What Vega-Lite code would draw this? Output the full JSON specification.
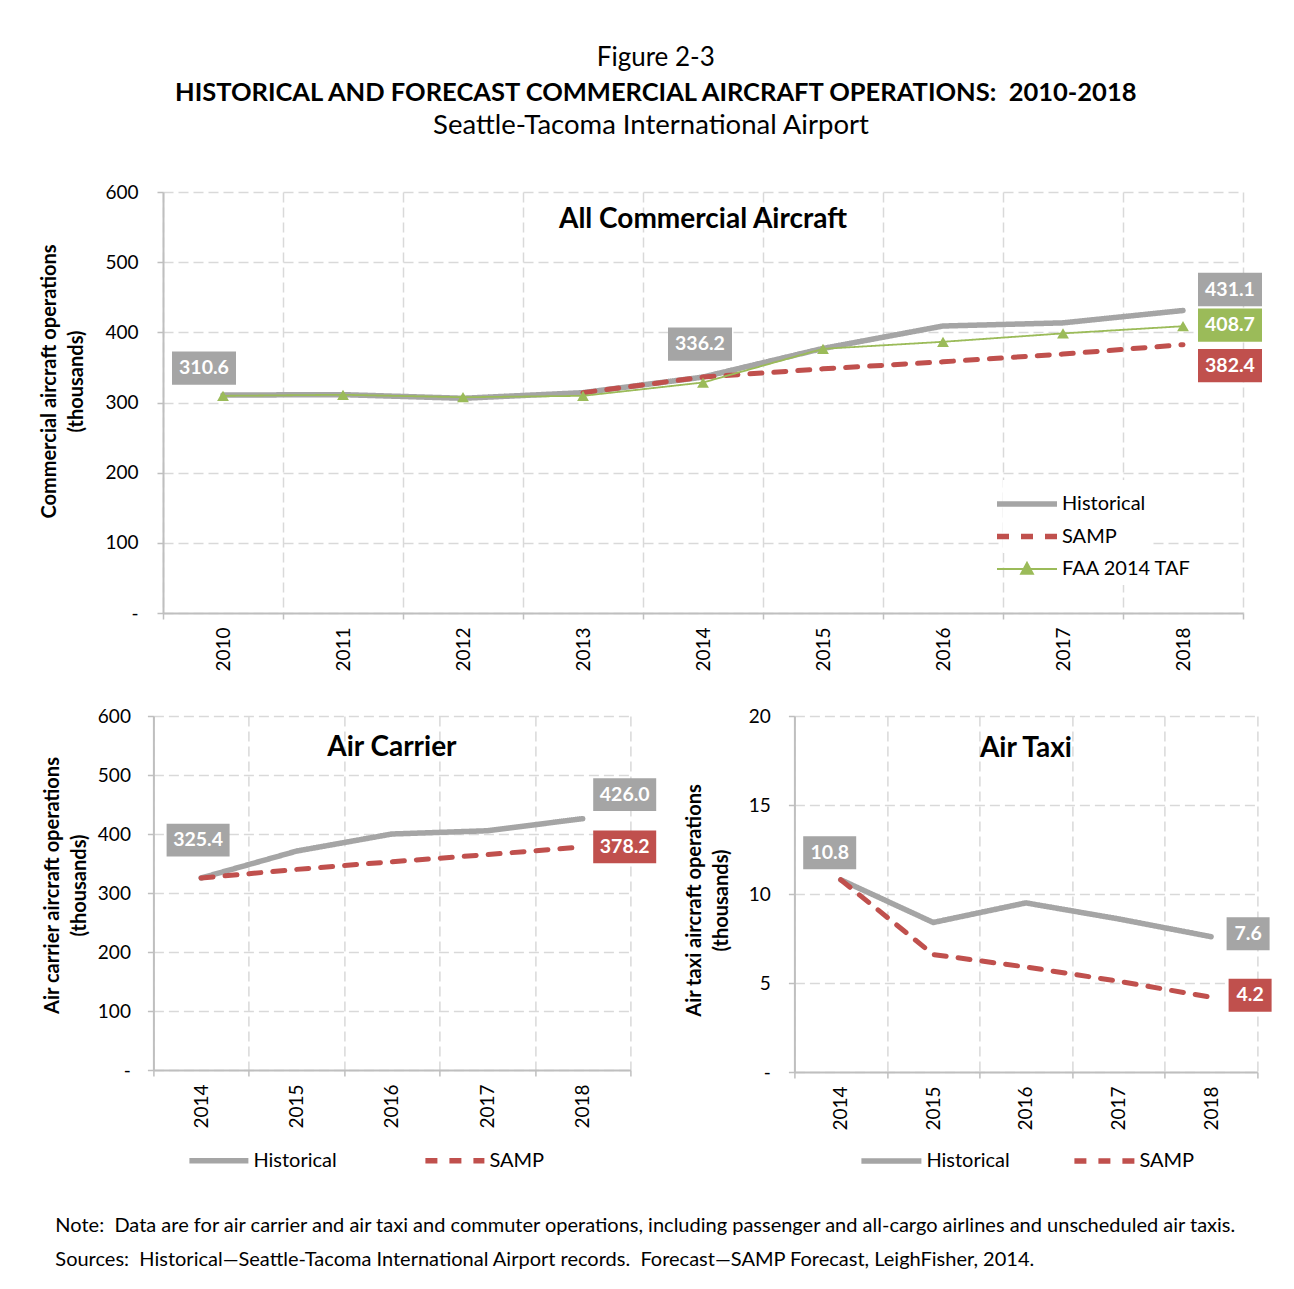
{
  "$schema": "https://vega.github.io/schema/vega-lite/v6.json",
  "background": "white",
  "padding": {"left": 39, "top": 45, "right": 10, "bottom": 5},
  "config": {
    "font": "Lato",
    "view": {"stroke": null},
    "axis": {
      "labelFont": "Lato", "labelFontSize": 19, "labelColor": "#000",
      "titleFont": "Lato", "titleFontSize": 20, "titleFontWeight": "bold", "titleColor": "#000",
      "grid": true, "gridColor": "#d9d9d9", "gridDash": [10, 5], "gridWidth": 1.5,
      "domainColor": "#bfbfbf", "domainWidth": 2, "tickColor": "#bfbfbf", "tickWidth": 1.5, "tickSize": 6
    },
    "legend": {"labelFont": "Lato", "labelFontSize": 20, "labelColor": "#000", "labelLimit": 300},
    "title": {"font": "Lato", "color": "#000"},
    "line": {"strokeCap": "round", "strokeJoin": "round"}
  },
  "datasets": {
    "all": [
      {"year": "2010", "series": "Historical", "value": 310.6},
      {"year": "2011", "series": "Historical", "value": 311.2},
      {"year": "2012", "series": "Historical", "value": 306.0},
      {"year": "2013", "series": "Historical", "value": 314.0},
      {"year": "2014", "series": "Historical", "value": 336.2},
      {"year": "2015", "series": "Historical", "value": 377.0},
      {"year": "2016", "series": "Historical", "value": 409.0},
      {"year": "2017", "series": "Historical", "value": 413.5},
      {"year": "2018", "series": "Historical", "value": 431.1},
      {"year": "2013", "series": "SAMP", "value": 314.0},
      {"year": "2014", "series": "SAMP", "value": 336.2},
      {"year": "2015", "series": "SAMP", "value": 348.0},
      {"year": "2016", "series": "SAMP", "value": 358.0},
      {"year": "2017", "series": "SAMP", "value": 369.0},
      {"year": "2018", "series": "SAMP", "value": 382.4},
      {"year": "2010", "series": "FAA 2014 TAF", "value": 309.5},
      {"year": "2011", "series": "FAA 2014 TAF", "value": 311.0},
      {"year": "2012", "series": "FAA 2014 TAF", "value": 307.5},
      {"year": "2013", "series": "FAA 2014 TAF", "value": 309.5},
      {"year": "2014", "series": "FAA 2014 TAF", "value": 328.5},
      {"year": "2015", "series": "FAA 2014 TAF", "value": 376.5},
      {"year": "2016", "series": "FAA 2014 TAF", "value": 386.5},
      {"year": "2017", "series": "FAA 2014 TAF", "value": 398.5},
      {"year": "2018", "series": "FAA 2014 TAF", "value": 408.7}
    ],
    "carrier": [
      {"year": "2014", "series": "Historical", "value": 325.4},
      {"year": "2015", "series": "Historical", "value": 371.0},
      {"year": "2016", "series": "Historical", "value": 400.0},
      {"year": "2017", "series": "Historical", "value": 405.5},
      {"year": "2018", "series": "Historical", "value": 426.0},
      {"year": "2014", "series": "SAMP", "value": 325.4},
      {"year": "2015", "series": "SAMP", "value": 340.0},
      {"year": "2016", "series": "SAMP", "value": 353.0},
      {"year": "2017", "series": "SAMP", "value": 365.0},
      {"year": "2018", "series": "SAMP", "value": 378.2}
    ],
    "taxi": [
      {"year": "2014", "series": "Historical", "value": 10.8},
      {"year": "2015", "series": "Historical", "value": 8.4},
      {"year": "2016", "series": "Historical", "value": 9.5},
      {"year": "2017", "series": "Historical", "value": 8.6},
      {"year": "2018", "series": "Historical", "value": 7.6},
      {"year": "2014", "series": "SAMP", "value": 10.8},
      {"year": "2015", "series": "SAMP", "value": 6.6},
      {"year": "2016", "series": "SAMP", "value": 5.9},
      {"year": "2017", "series": "SAMP", "value": 5.1},
      {"year": "2018", "series": "SAMP", "value": 4.2}
    ]
  },
  "title": {
    "text": "Figure 2-3",
    "subtitle": "HISTORICAL AND FORECAST COMMERCIAL AIRCRAFT OPERATIONS:\u00a0 2010-2018",
    "fontSize": 26, "fontWeight": "normal",
    "subtitleFont": "Lato", "subtitleFontSize": 25.5, "subtitleFontWeight": "bold", "subtitleColor": "#000",
    "subtitlePadding": 10, "anchor": "middle", "offset": 5
  },
  "spacing": 35,
  "center": true,
  "resolve": {
    "scale": {"x": "independent", "y": "independent", "color": "independent", "strokeDash": "independent", "shape": "independent"},
    "legend": {"color": "independent", "strokeDash": "independent", "shape": "independent"}
  },
  "vconcat": [
    {
      "title": {"text": "Seattle-Tacoma International Airport", "fontSize": 27.5, "fontWeight": "normal", "anchor": "middle", "offset": 44},
      "vconcat": [
        {
          "width": 1080,
          "height": 421,
          "title": {"text": "All Commercial Aircraft", "fontSize": 28, "fontWeight": "bold", "offset": -51},
          "data": {"name": "all"},
          "encoding": {
            "x": {
              "field": "year", "type": "ordinal",
              "scale": {"type": "band", "paddingInner": 0, "paddingOuter": 0},
              "axis": {"title": null, "labelAngle": -90, "tickBand": "extent", "labelPadding": 8}
            },
            "y": {
              "field": "value", "type": "quantitative",
              "scale": {"domain": [0, 600]},
              "axis": {
                "values": [0, 100, 200, 300, 400, 500, 600],
                "labelExpr": "datum.value === 0 ? '-\u00a0\u00a0' : datum.label",
                "labelPadding": 19,
                "title": ["Commercial aircraft operations", "(thousands)"],
                "titleLineHeight": 27, "titlePadding": 18, "titleY": 189
              }
            }
          },
          "layer": [
            {
              "transform": [{"filter": "datum.series === 'Historical'"}],
              "mark": {"type": "line", "strokeWidth": 5.5},
              "encoding": {
                "color": {"field": "series", "type": "nominal",
                  "scale": {"domain": ["Historical", "SAMP", "FAA 2014 TAF"], "range": ["#a5a5a5", "#c0504d", "#9bbb59"]},
                  "legend": {"title": null, "values": ["Historical", "SAMP"], "orient": "none", "legendX": 840, "legendY": 288, "symbolType": "M-2,0L2,0", "symbolSize": 900, "symbolStrokeWidth": 5.5, "labelOffset": 17, "rowPadding": 4.5, "fillColor": "white", "padding": 6}},
                "strokeDash": {"field": "series", "type": "nominal",
                  "scale": {"domain": ["Historical", "SAMP", "FAA 2014 TAF"], "range": [[1, 0], [12, 12], [1, 0]]},
                  "legend": {"title": null, "values": ["Historical", "SAMP"], "orient": "none", "legendX": 840, "legendY": 288, "symbolType": "M-2,0L2,0", "symbolSize": 900, "symbolStrokeWidth": 5.5, "labelOffset": 17, "rowPadding": 4.5, "fillColor": "white", "padding": 6}}
              }
            },
            {
              "transform": [{"filter": "datum.series === 'SAMP'"}],
              "mark": {"type": "line", "strokeWidth": 5},
              "encoding": {
                "color": {"field": "series", "type": "nominal"},
                "strokeDash": {"field": "series", "type": "nominal"}
              }
            },
            {
              "transform": [{"filter": "datum.series === 'FAA 2014 TAF'"}],
              "mark": {"type": "line", "strokeWidth": 1.8},
              "encoding": {
                "color": {"field": "series", "type": "nominal"},
                "strokeDash": {"field": "series", "type": "nominal"}
              }
            },
            {
              "transform": [{"filter": "datum.series === 'FAA 2014 TAF'"}],
              "mark": {"type": "point", "shape": "triangle-up", "size": 140, "filled": true, "opacity": 1, "color": "#9bbb59"}
            },
            {
              "transform": [{"filter": "datum.series === 'FAA 2014 TAF'"}],
              "mark": {"type": "point", "filled": false, "opacity": 0, "color": "#9bbb59", "strokeWidth": 1.8},
              "encoding": {
                "shape": {"field": "series", "type": "nominal",
                  "scale": {"domain": ["FAA 2014 TAF"], "range": ["M-2,0L2,0M0,-0.42L0.4,0.32L-0.4,0.32ZM0,-0.272L0.28,0.246L-0.28,0.246ZM0,-0.149L0.18,0.184L-0.18,0.184ZM0,-0.026L0.08,0.122L-0.08,0.122Z"]},
                  "legend": {"title": null, "orient": "none", "legendX": 842, "legendY": 355, "symbolSize": 900, "symbolStrokeWidth": 1.8, "symbolOpacity": 1, "symbolStrokeColor": "#9bbb59", "labelOffset": 19, "fillColor": "white", "padding": 6}}
              }
            },
            {
              "transform": [{"filter": "datum.series === 'Historical' && datum.year === '2010'"}],
              "layer": [
                {"mark": {"type": "point", "shape": "M-1,-0.52L1,-0.52L1,0.52L-1,0.52Z", "size": 4096, "filled": true, "opacity": 1, "color": "#a5a5a5", "xOffset": -19, "yOffset": -27}},
                {"mark": {"type": "text", "color": "white", "fontWeight": "bold", "fontSize": 19.5, "xOffset": -19, "yOffset": -27}, "encoding": {"text": {"field": "value", "type": "quantitative", "format": ".1f"}}}
              ]
            },
            {
              "transform": [{"filter": "datum.series === 'Historical' && datum.year === '2014'"}],
              "layer": [
                {"mark": {"type": "point", "shape": "M-1,-0.52L1,-0.52L1,0.52L-1,0.52Z", "size": 4096, "filled": true, "opacity": 1, "color": "#a5a5a5", "xOffset": -3, "yOffset": -33}},
                {"mark": {"type": "text", "color": "white", "fontWeight": "bold", "fontSize": 19.5, "xOffset": -3, "yOffset": -33}, "encoding": {"text": {"field": "value", "type": "quantitative", "format": ".1f"}}}
              ]
            },
            {
              "transform": [{"filter": "datum.series === 'Historical' && datum.year === '2018'"}],
              "layer": [
                {"mark": {"type": "point", "shape": "M-1,-0.52L1,-0.52L1,0.52L-1,0.52Z", "size": 4096, "filled": true, "opacity": 1, "color": "#a5a5a5", "xOffset": 47, "yOffset": -21}},
                {"mark": {"type": "text", "color": "white", "fontWeight": "bold", "fontSize": 19.5, "xOffset": 47, "yOffset": -21}, "encoding": {"text": {"field": "value", "type": "quantitative", "format": ".1f"}}}
              ]
            },
            {
              "transform": [{"filter": "datum.series === 'FAA 2014 TAF' && datum.year === '2018'"}],
              "layer": [
                {"mark": {"type": "point", "shape": "M-1,-0.52L1,-0.52L1,0.52L-1,0.52Z", "size": 4096, "filled": true, "opacity": 1, "color": "#9bbb59", "xOffset": 47, "yOffset": -1}},
                {"mark": {"type": "text", "color": "white", "fontWeight": "bold", "fontSize": 19.5, "xOffset": 47, "yOffset": -1}, "encoding": {"text": {"field": "value", "type": "quantitative", "format": ".1f"}}}
              ]
            },
            {
              "transform": [{"filter": "datum.series === 'SAMP' && datum.year === '2018'"}],
              "layer": [
                {"mark": {"type": "point", "shape": "M-1,-0.52L1,-0.52L1,0.52L-1,0.52Z", "size": 4096, "filled": true, "opacity": 1, "color": "#c0504d", "xOffset": 47, "yOffset": 21}},
                {"mark": {"type": "text", "color": "white", "fontWeight": "bold", "fontSize": 19.5, "xOffset": 47, "yOffset": 21}, "encoding": {"text": {"field": "value", "type": "quantitative", "format": ".1f"}}}
              ]
            }
          ]
        }
      ]
    },
    {
      "spacing": 27,
      "resolve": {
        "scale": {"x": "independent", "y": "independent", "color": "independent", "strokeDash": "independent"},
        "legend": {"color": "independent", "strokeDash": "independent"}
      },
      "title": {
        "text": ["Note:\u00a0 Data are for air carrier and air taxi and commuter operations, including passenger and all-cargo airlines and unscheduled air taxis.", "Sources:\u00a0 Historical\u2014Seattle-Tacoma International Airport records.\u00a0 Forecast\u2014SAMP Forecast, LeighFisher, 2014."],
        "orient": "bottom", "anchor": "start", "fontSize": 20, "fontWeight": "normal", "lineHeight": 34, "offset": 45, "dx": 13
      },
      "hconcat": [
        {
          "width": 477,
          "height": 354,
          "title": {"text": "Air Carrier", "fontSize": 28, "fontWeight": "bold", "offset": -55},
          "data": {"name": "carrier"},
          "encoding": {
            "x": {
              "field": "year", "type": "ordinal",
              "scale": {"type": "band", "paddingInner": 0, "paddingOuter": 0},
              "axis": {"title": null, "labelAngle": -90, "tickBand": "extent", "labelPadding": 8}
            },
            "y": {
              "field": "value", "type": "quantitative",
              "scale": {"domain": [0, 600]},
              "axis": {
                "values": [0, 100, 200, 300, 400, 500, 600],
                "labelExpr": "datum.value === 0 ? '-\u00a0\u00a0' : datum.label",
                "labelPadding": 17,
                "title": ["Air carrier aircraft operations", "(thousands)"],
                "titleLineHeight": 27, "titlePadding": 8, "titleY": 169
              }
            }
          },
          "layer": [
            {
              "transform": [{"filter": "datum.series === 'Historical'"}],
              "mark": {"type": "line", "strokeWidth": 5.5},
              "encoding": {
                "color": {"field": "series", "type": "nominal",
                  "scale": {"domain": ["Historical", "SAMP"], "range": ["#a5a5a5", "#c0504d"]},
                  "legend": {"title": null, "orient": "none", "direction": "horizontal", "legendX": 48, "legendY": 427, "symbolType": "M-2,0L2,0", "symbolSize": 870, "symbolStrokeWidth": 5.5, "labelOffset": 17, "columnPadding": 85}},
                "strokeDash": {"field": "series", "type": "nominal",
                  "scale": {"domain": ["Historical", "SAMP"], "range": [[1, 0], [12, 12]]},
                  "legend": {"title": null, "orient": "none", "direction": "horizontal", "legendX": 48, "legendY": 427, "symbolType": "M-2,0L2,0", "symbolSize": 870, "symbolStrokeWidth": 5.5, "labelOffset": 17, "columnPadding": 85}}
              }
            },
            {
              "transform": [{"filter": "datum.series === 'SAMP'"}],
              "mark": {"type": "line", "strokeWidth": 5},
              "encoding": {
                "color": {"field": "series", "type": "nominal"},
                "strokeDash": {"field": "series", "type": "nominal"}
              }
            },
            {
              "transform": [{"filter": "datum.series === 'Historical' && datum.year === '2014'"}],
              "layer": [
                {"mark": {"type": "point", "shape": "M-1,-0.52L1,-0.52L1,0.52L-1,0.52Z", "size": 3969, "filled": true, "opacity": 1, "color": "#a5a5a5", "xOffset": -3, "yOffset": -38}},
                {"mark": {"type": "text", "color": "white", "fontWeight": "bold", "fontSize": 19.5, "xOffset": -3, "yOffset": -38}, "encoding": {"text": {"field": "value", "type": "quantitative", "format": ".1f"}}}
              ]
            },
            {
              "transform": [{"filter": "datum.series === 'Historical' && datum.year === '2018'"}],
              "layer": [
                {"mark": {"type": "point", "shape": "M-1,-0.52L1,-0.52L1,0.52L-1,0.52Z", "size": 3969, "filled": true, "opacity": 1, "color": "#a5a5a5", "xOffset": 42, "yOffset": -24}},
                {"mark": {"type": "text", "color": "white", "fontWeight": "bold", "fontSize": 19.5, "xOffset": 42, "yOffset": -24}, "encoding": {"text": {"field": "value", "type": "quantitative", "format": ".1f"}}}
              ]
            },
            {
              "transform": [{"filter": "datum.series === 'SAMP' && datum.year === '2018'"}],
              "layer": [
                {"mark": {"type": "point", "shape": "M-1,-0.52L1,-0.52L1,0.52L-1,0.52Z", "size": 3969, "filled": true, "opacity": 1, "color": "#c0504d", "xOffset": 42, "yOffset": 0}},
                {"mark": {"type": "text", "color": "white", "fontWeight": "bold", "fontSize": 19.5, "xOffset": 42, "yOffset": 0}, "encoding": {"text": {"field": "value", "type": "quantitative", "format": ".1f"}}}
              ]
            }
          ]
        },
        {
          "width": 463,
          "height": 356,
          "title": {"text": "Air Taxi", "fontSize": 28, "fontWeight": "bold", "offset": -56},
          "data": {"name": "taxi"},
          "encoding": {
            "x": {
              "field": "year", "type": "ordinal",
              "scale": {"type": "band", "paddingInner": 0, "paddingOuter": 0},
              "axis": {"title": null, "labelAngle": -90, "tickBand": "extent", "labelPadding": 8}
            },
            "y": {
              "field": "value", "type": "quantitative",
              "scale": {"domain": [0, 20]},
              "axis": {
                "values": [0, 5, 10, 15, 20],
                "labelExpr": "datum.value === 0 ? '-\u00a0\u00a0' : datum.label",
                "labelPadding": 18,
                "title": ["Air taxi aircraft operations", "(thousands)"],
                "titleLineHeight": 27, "titlePadding": 17, "titleY": 184
              }
            }
          },
          "layer": [
            {
              "transform": [{"filter": "datum.series === 'Historical'"}],
              "mark": {"type": "line", "strokeWidth": 5.5},
              "encoding": {
                "color": {"field": "series", "type": "nominal",
                  "scale": {"domain": ["Historical", "SAMP"], "range": ["#a5a5a5", "#c0504d"]},
                  "legend": {"title": null, "orient": "none", "direction": "horizontal", "legendX": 79, "legendY": 427, "symbolType": "M-2,0L2,0", "symbolSize": 900, "symbolStrokeWidth": 5.5, "labelOffset": 17, "columnPadding": 61}},
                "strokeDash": {"field": "series", "type": "nominal",
                  "scale": {"domain": ["Historical", "SAMP"], "range": [[1, 0], [12, 12]]},
                  "legend": {"title": null, "orient": "none", "direction": "horizontal", "legendX": 79, "legendY": 427, "symbolType": "M-2,0L2,0", "symbolSize": 900, "symbolStrokeWidth": 5.5, "labelOffset": 17, "columnPadding": 61}}
              }
            },
            {
              "transform": [{"filter": "datum.series === 'SAMP'"}],
              "mark": {"type": "line", "strokeWidth": 5},
              "encoding": {
                "color": {"field": "series", "type": "nominal"},
                "strokeDash": {"field": "series", "type": "nominal"}
              }
            },
            {
              "transform": [{"filter": "datum.series === 'Historical' && datum.year === '2014'"}],
              "layer": [
                {"mark": {"type": "point", "shape": "M-1,-0.62L1,-0.62L1,0.62L-1,0.62Z", "size": 2809, "filled": true, "opacity": 1, "color": "#a5a5a5", "xOffset": -11, "yOffset": -27}},
                {"mark": {"type": "text", "color": "white", "fontWeight": "bold", "fontSize": 19.5, "xOffset": -11, "yOffset": -27}, "encoding": {"text": {"field": "value", "type": "quantitative", "format": ".1f"}}}
              ]
            },
            {
              "transform": [{"filter": "datum.series === 'Historical' && datum.year === '2018'"}],
              "layer": [
                {"mark": {"type": "point", "shape": "M-1,-0.77L1,-0.77L1,0.77L-1,0.77Z", "size": 1849, "filled": true, "opacity": 1, "color": "#a5a5a5", "xOffset": 37, "yOffset": -3}},
                {"mark": {"type": "text", "color": "white", "fontWeight": "bold", "fontSize": 19.5, "xOffset": 37, "yOffset": -3}, "encoding": {"text": {"field": "value", "type": "quantitative", "format": ".1f"}}}
              ]
            },
            {
              "transform": [{"filter": "datum.series === 'SAMP' && datum.year === '2018'"}],
              "layer": [
                {"mark": {"type": "point", "shape": "M-1,-0.77L1,-0.77L1,0.77L-1,0.77Z", "size": 1849, "filled": true, "opacity": 1, "color": "#c0504d", "xOffset": 39, "yOffset": -2}},
                {"mark": {"type": "text", "color": "white", "fontWeight": "bold", "fontSize": 19.5, "xOffset": 39, "yOffset": -2}, "encoding": {"text": {"field": "value", "type": "quantitative", "format": ".1f"}}}
              ]
            }
          ]
        }
      ]
    }
  ]
}
